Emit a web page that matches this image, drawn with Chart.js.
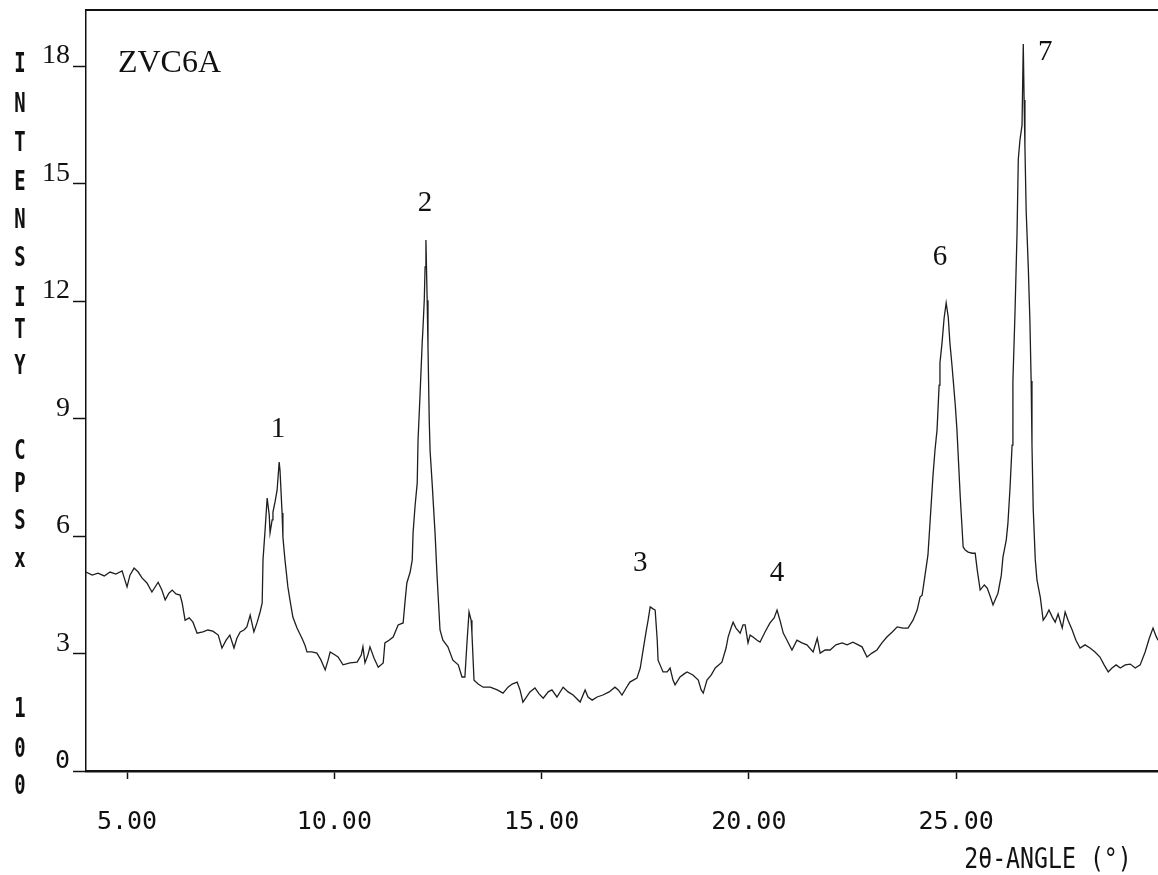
<!DOCTYPE html>
<html><head><meta charset="utf-8">
<script src="https://cdn.jsdelivr.net/npm/chart.js@4/dist/chart.umd.min.js"></script>
<style>html,body{margin:0;padding:0;background:#fff;} #wrap{width:1158px;height:875px;position:relative;}</style>
</head><body><div id="wrap"><canvas id="c"></canvas></div>
<script>
// 2θ angle (degrees)
const twoTheta = [4.01,4.16,4.30,4.45,4.59,4.73,4.88,5.00,5.07,5.17,5.27,5.36,5.48,5.60,5.75,5.84,5.92,6.01,6.09,6.18,6.28,6.33,6.40,6.50,6.59,6.69,6.83,6.95,7.07,7.20,7.29,7.39,7.48,7.58,7.65,7.73,7.82,7.89,7.97,8.06,8.14,8.21,8.26,8.28,8.33,8.38,8.43,8.45,8.50,8.52,8.57,8.62,8.67,8.69,8.74,8.76,8.81,8.88,8.93,9.00,9.10,9.22,9.29,9.34,9.46,9.58,9.68,9.78,9.85,9.90,10.02,10.09,10.21,10.38,10.55,10.65,10.69,10.74,10.81,10.86,10.96,11.06,11.18,11.22,11.32,11.42,11.54,11.66,11.71,11.75,11.83,11.88,11.90,11.95,12.00,12.02,12.07,12.12,12.14,12.17,12.19,12.21,12.24,12.26,12.29,12.31,12.36,12.43,12.48,12.55,12.62,12.74,12.86,12.99,13.08,13.15,13.20,13.25,13.30,13.32,13.37,13.47,13.59,13.76,13.93,14.07,14.19,14.29,14.41,14.48,14.55,14.72,14.84,14.94,15.04,15.16,15.25,15.37,15.52,15.64,15.76,15.93,16.05,16.12,16.22,16.34,16.48,16.63,16.77,16.85,16.94,17.04,17.13,17.30,17.38,17.45,17.52,17.57,17.62,17.69,17.74,17.79,17.81,17.93,18.03,18.10,18.17,18.22,18.34,18.44,18.51,18.65,18.78,18.85,18.90,18.99,19.09,19.19,19.35,19.45,19.50,19.57,19.62,19.69,19.79,19.86,19.91,19.98,20.03,20.10,20.20,20.27,20.39,20.51,20.61,20.68,20.75,20.83,20.92,21.04,21.16,21.28,21.40,21.55,21.65,21.72,21.84,21.96,22.10,22.25,22.37,22.51,22.64,22.73,22.85,22.97,23.09,23.21,23.33,23.46,23.58,23.72,23.84,23.96,24.06,24.13,24.18,24.25,24.32,24.37,24.44,24.49,24.54,24.59,24.61,24.66,24.71,24.76,24.81,24.85,24.90,24.93,24.98,25.02,25.10,25.17,25.22,25.29,25.39,25.46,25.51,25.58,25.68,25.75,25.82,25.89,25.96,26.01,26.09,26.13,26.21,26.25,26.30,26.35,26.37,26.42,26.47,26.50,26.54,26.59,26.62,26.64,26.66,26.69,26.74,26.78,26.81,26.83,26.86,26.91,26.95,27.03,27.10,27.17,27.24,27.32,27.39,27.46,27.56,27.63,27.70,27.80,27.89,27.99,28.11,28.23,28.35,28.47,28.57,28.67,28.76,28.86,28.96,29.08,29.20,29.32,29.44,29.56,29.66,29.75,29.82,29.87];
// intensity (CPS x 100)
const intensity = [5.08,5.00,5.05,4.98,5.08,5.03,5.11,4.70,5.00,5.18,5.08,4.93,4.80,4.57,4.82,4.62,4.37,4.54,4.62,4.52,4.49,4.29,3.85,3.91,3.80,3.52,3.55,3.60,3.57,3.47,3.14,3.34,3.47,3.14,3.39,3.55,3.60,3.68,3.98,3.55,3.80,4.06,4.29,5.39,6.15,6.97,6.54,6.08,6.41,6.61,6.87,7.17,7.89,7.68,6.59,5.97,5.39,4.70,4.37,3.93,3.65,3.39,3.22,3.04,3.04,3.01,2.83,2.58,2.83,3.04,2.96,2.91,2.71,2.76,2.78,2.96,3.17,2.76,2.96,3.17,2.88,2.65,2.76,3.27,3.34,3.42,3.73,3.78,4.37,4.80,5.08,5.39,6.08,6.79,7.35,8.45,9.65,10.93,11.33,12.02,12.87,13.56,12.02,10.82,8.96,8.19,7.35,6.08,4.95,3.60,3.34,3.17,2.83,2.71,2.40,2.40,3.27,4.06,3.85,3.52,2.32,2.22,2.14,2.14,2.07,1.99,2.14,2.22,2.27,2.07,1.76,2.02,2.12,1.97,1.86,2.02,2.07,1.89,2.14,2.02,1.94,1.76,2.07,1.89,1.81,1.89,1.94,2.02,2.14,2.07,1.94,2.12,2.27,2.37,2.63,3.09,3.55,3.85,4.19,4.14,4.11,3.34,2.83,2.53,2.53,2.63,2.32,2.20,2.40,2.48,2.53,2.45,2.32,2.07,1.99,2.32,2.45,2.63,2.78,3.14,3.42,3.65,3.80,3.65,3.52,3.73,3.73,3.27,3.47,3.42,3.34,3.29,3.55,3.78,3.91,4.11,3.85,3.52,3.34,3.09,3.34,3.27,3.22,3.04,3.39,3.01,3.09,3.09,3.22,3.27,3.22,3.29,3.22,3.17,2.91,3.01,3.09,3.27,3.42,3.55,3.68,3.65,3.65,3.85,4.11,4.44,4.49,5.00,5.51,6.33,7.51,8.19,8.71,9.85,10.42,10.93,11.56,11.95,11.59,10.93,10.36,9.98,9.34,8.71,6.99,5.72,5.64,5.59,5.56,5.56,5.13,4.62,4.75,4.67,4.47,4.24,4.42,4.54,5.00,5.46,5.90,6.33,7.22,8.32,9.96,11.69,13.76,15.62,16.11,16.49,18.56,17.13,15.93,14.30,12.89,11.49,9.96,8.32,6.69,5.39,4.88,4.44,3.85,3.96,4.11,3.93,3.80,4.01,3.65,4.06,3.85,3.60,3.34,3.14,3.22,3.14,3.04,2.91,2.71,2.53,2.63,2.71,2.63,2.71,2.73,2.63,2.71,3.04,3.39,3.65,3.45,3.34];

const peakLabels = ['1','2','3','4','6','7'];
const peakLabelAngle = [8.64, 12.19, 17.38, 20.68, 24.61, 27.15];
const peakLabelIntensity = [8.71, 14.50, 5.31, 5.05, 13.12, 18.36];
const sampleName = 'ZVC6A';
const sampleAngle = 4.78;
const sampleIntensity = 18.05;
const yAxisTitle = ['I','N','T','E','N','S','I','T','Y','C','P','S','x','1','0','0'];
const xAxisTitle = '2θ-ANGLE (°)';
const xRange = [4.01, 29.87];
const yRange = [0, 19.43];

const n = Math.min(twoTheta.length, intensity.length);
const points = [];
for (let i = 0; i < n; i++) points.push({x: twoTheta[i], y: intensity[i]});

const yTitlePos = [65,105,144,183,221,259,299,331,367,452,485,522,560,710,750,787];

const decor = {
  id: 'decor',
  afterDraw(chart) {
    const {ctx, chartArea: a, scales: {x, y}} = chart;
    ctx.save();
    ctx.strokeStyle = '#111'; ctx.lineWidth = 2;
    ctx.beginPath(); ctx.moveTo(a.left, a.top); ctx.lineTo(a.right, a.top); ctx.stroke();
    ctx.fillStyle = '#111';
    ctx.textBaseline = 'middle';
    ctx.font = '32px "Liberation Serif"';
    ctx.textAlign = 'left';
    ctx.fillText(sampleName, x.getPixelForValue(sampleAngle), y.getPixelForValue(sampleIntensity));
    ctx.font = '29px "Liberation Serif"';
    ctx.textAlign = 'center';
    peakLabels.forEach((t, i) => ctx.fillText(t, x.getPixelForValue(peakLabelAngle[i]), y.getPixelForValue(peakLabelIntensity[i])));
    ctx.font = 'bold 27px "DejaVu Sans Mono"';
    yAxisTitle.forEach((t, i) => {
      ctx.save(); ctx.translate(20, yTitlePos[i]); ctx.scale(0.7, 1); ctx.fillText(t, 0, 0); ctx.restore();
    });
    ctx.save(); ctx.translate(1048, 860); ctx.scale(0.8, 1);
    ctx.font = '29px "DejaVu Sans Mono"'; ctx.fillText(xAxisTitle, 0, 0); ctx.restore();
    ctx.restore();
  }
};

new Chart(document.getElementById('c'), {
  type: 'line',
  data: { datasets: [{ data: points, borderColor: '#1e1e1e', borderWidth: 1.3, pointRadius: 0, tension: 0, fill: false }] },
  options: {
    responsive: true, maintainAspectRatio: false, animation: false,
    layout: { padding: { top: 10, right: 0, left: 0, bottom: 0 } },
    plugins: { legend: { display: false }, tooltip: { enabled: false } },
    scales: {
      x: {
        type: 'linear', min: xRange[0], max: xRange[1],
        afterFit(s) { s.height = 104; s.paddingLeft = 0; s.paddingRight = 0; },
        border: { color: '#111', width: 2.5 },
        grid: { drawOnChartArea: false, drawTicks: true, tickLength: 8, color: '#111', tickWidth: 1.5 },
        ticks: { stepSize: 5, includeBounds: false, padding: 28, color: '#111', maxRotation: 0,
          font: { family: 'DejaVu Sans Mono', size: 25 },
          callback: v => Number(v).toFixed(2) }
      },
      y: {
        min: yRange[0], max: yRange[1],
        afterFit(s) { s.width = 86; s.paddingTop = 0; s.paddingBottom = 0; },
        border: { color: '#111', width: 1.5 },
        grid: { drawOnChartArea: false, drawTicks: true, tickLength: 13, color: '#111', tickWidth: 1.5 },
        ticks: { stepSize: 3, includeBounds: false, padding: 3, color: '#111', labelOffset: -10,
          font: (c) => (c.tick && c.tick.value === 0) ? { family: 'DejaVu Sans Mono', size: 25 } : { family: 'Liberation Serif', size: 28 },
          callback: v => String(v) }
      }
    }
  },
  plugins: [decor]
});
</script></body></html>
